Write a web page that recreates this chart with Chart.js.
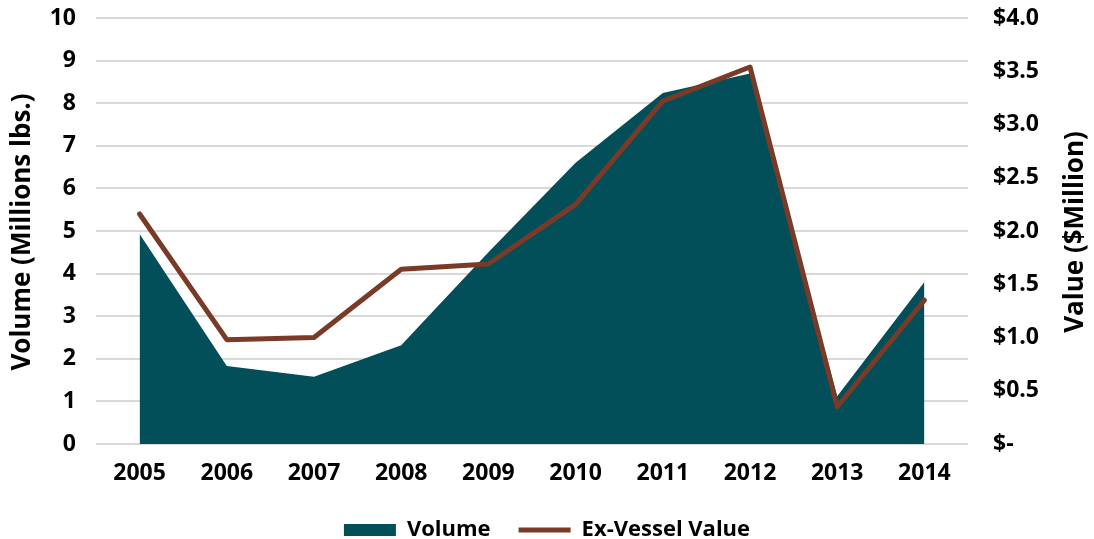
<!DOCTYPE html>
<html>
<head>
<meta charset="utf-8">
<script src="https://cdn.jsdelivr.net/npm/chart.js@4.4.1/dist/chart.umd.min.js"></script>
<style>
  html, body { margin: 0; padding: 0; background: #fff; }
  #wrap { width: 1094px; height: 539px; }
</style>
</head>
<body>
<div id="wrap"><canvas id="chart"></canvas></div>
<script>
// Volume (Millions lbs.) and ex-vessel value ($Million), 2005-2014
const years = ['2005', '2006', '2007', '2008', '2009', '2010', '2011', '2012', '2013', '2014'];
const volume = [4.93, 1.83, 1.58, 2.32, 4.5, 6.6, 8.24, 8.7, 1.12, 3.8];
const exVesselValue = [2.16, 0.98, 1.0, 1.64, 1.69, 2.25, 3.22, 3.54, 0.35, 1.35];

const FONT = "'Open Sans', 'DejaVu Sans', sans-serif";
const teal = '#024f5a';
const brown = '#7a3a28';

// axis titles, drawn by hand so both read bottom-to-top like the original
const axisTitles = {
  id: 'axisTitles',
  afterDraw(chart) {
    const ctx = chart.ctx;
    const mid = (chart.chartArea.top + chart.chartArea.bottom) / 2 + 1;
    const draw = (text, x) => {
      ctx.save();
      ctx.translate(x, mid);
      ctx.rotate(-Math.PI / 2);
      ctx.font = 'bold 26px ' + FONT;
      ctx.fillStyle = '#000';
      ctx.textAlign = 'center';
      ctx.textBaseline = 'middle';
      ctx.fillText(text, 0, 0);
      ctx.restore();
    };
    draw('Volume (Millions lbs.)', 23);
    draw('Value ($Million)', 1076);
  }
};

// drop the half-label padding chart.js adds above/below the value axes
const noEdgePad = scale => {
  scale.paddingTop = 0;
  scale.paddingBottom = 0;
};

new Chart(document.getElementById('chart'), {
  type: 'line',
  data: {
    labels: years,
    datasets: [{
      label: 'Volume',
      data: volume,
      yAxisID: 'y',
      fill: 'origin',
      backgroundColor: teal,
      borderColor: teal,
      borderWidth: 0,
      pointRadius: 0,
      pointStyle: 'rect',
      tension: 0,
      order: 1
    }, {
      label: 'Ex-Vessel Value',
      data: exVesselValue,
      yAxisID: 'y1',
      fill: false,
      borderColor: brown,
      backgroundColor: brown,
      borderWidth: 5,
      borderCapStyle: 'round',
      borderJoinStyle: 'round',
      pointRadius: 0,
      pointStyle: 'line',
      tension: 0,
      order: 0
    }]
  },
  options: {
    responsive: true,
    maintainAspectRatio: false,
    animation: false,
    layout: { padding: { top: 18, bottom: -12 } },
    plugins: {
      tooltip: { enabled: false },
      legend: {
        position: 'bottom',
        labels: {
          usePointStyle: true,
          pointStyleWidth: 52,
          boxHeight: 12,
          padding: 28,
          color: '#000',
          font: { family: FONT, size: 22, weight: 'bold' },
          sort: (a, b) => a.datasetIndex - b.datasetIndex
        }
      }
    },
    scales: {
      x: {
        offset: true,
        grid: { display: false },
        border: { display: false },
        ticks: { color: '#000', padding: 8, font: { family: FONT, size: 23, weight: 'bold' } },
        afterFit(scale) { scale.height = 47; }
      },
      y: {
        position: 'left',
        min: 0,
        max: 10,
        ticks: { stepSize: 1, color: '#000', padding: 20, font: { family: FONT, size: 23, weight: 'bold' } },
        grid: { color: '#d9d9d9', lineWidth: 2, drawTicks: false },
        border: { display: false },
        afterFit(scale) { scale.width = 96; noEdgePad(scale); }
      },
      y1: {
        position: 'right',
        min: 0,
        max: 4,
        ticks: {
          stepSize: 0.5,
          color: '#000',
          padding: 25,
          font: { family: FONT, size: 23, weight: 'bold' },
          callback: v => v === 0 ? '$-' : '$' + v.toFixed(1)
        },
        grid: { display: false, drawTicks: false },
        border: { display: false },
        afterFit(scale) { scale.width = 126; noEdgePad(scale); }
      }
    }
  },
  plugins: [axisTitles]
});
</script>
</body>
</html>
